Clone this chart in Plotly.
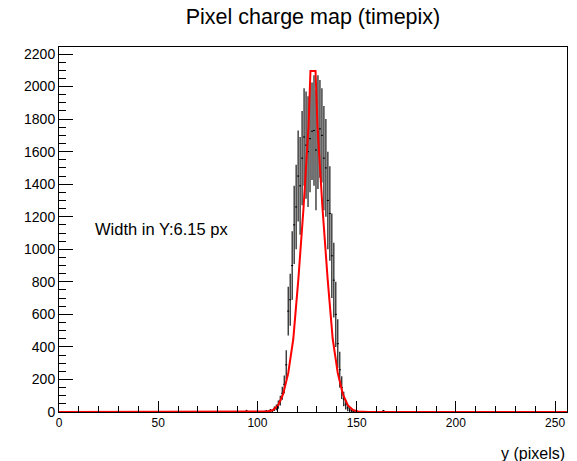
import plotly.graph_objects as go

# ---------------- data ----------------
n_bins = 256
# non-zero bins of the histogram: bin index -> (content, error)
peak_bins = [94, 101, 103, 104, 105, 106, 107, 108, 109, 110, 111, 112, 113, 114, 115, 116,
             117, 118, 119, 120, 121, 122, 123, 124, 125, 126, 127, 128, 129, 130, 131,
             132, 133, 134, 135, 136, 137, 138, 139, 140, 141, 142, 143, 144, 145, 146,
             147, 148, 163]
peak_vals = [8, 2, 3, 6, 4, 10, 8, 20, 28, 45, 70, 115, 170, 290, 620, 690,
             900, 1150, 1260, 1450, 1390, 1560, 1690, 1640, 1600, 1680, 1725, 1730, 1610, 1720, 1740,
             1700, 1560, 1500, 1300, 1220, 960, 810, 600, 420, 260, 150, 80, 45, 25, 12,
             6, 3, 8]
peak_errs = [5, 3, 4, 6, 5, 8, 8, 14, 18, 25, 30, 40, 55, 90, 150, 160,
             210, 240, 260, 280, 300, 290, 300, 330, 340, 330, 300, 340, 370, 350, 300,
             290, 320, 300, 300, 290, 260, 230, 200, 150, 110, 70, 45, 30, 20, 12,
             8, 5, 5]

# fit curve (drawn as polyline, sampled every 2.56 units), values near the peak
fit_peak_x = [100.16, 102.72, 105.28, 107.84, 110.40, 112.96, 115.52, 118.08, 120.64,
              123.20, 125.76, 126.72, 129.28, 130.24, 132.80, 135.36, 137.92, 140.48,
              143.04, 145.60, 148.16, 150.72, 153.28, 155.84]
fit_peak_y = [0, 0, 3, 12, 40, 110, 240, 450, 820, 1250, 1760, 2095, 2095, 1760, 1250,
              820, 450, 240, 110, 40, 12, 3, 0, 0]

title_text = "Pixel charge map (timepix)"
x_title = "y (pixels)"
note_text = "Width in Y:6.15 px"

# ---------------- build ----------------
centers = [i + 0.5 for i in range(n_bins)]
values = [0.0] * n_bins
errors = [0.0] * n_bins
for b, v, e in zip(peak_bins, peak_vals, peak_errs):
    values[b] = v
    errors[b] = e

fit_x = [0.0] + fit_peak_x + [256.0]
fit_y = [0.0] + fit_peak_y + [0.0]

FONT = "Liberation Sans, Arial, sans-serif"

fig = go.Figure()
fig.add_trace(go.Scatter(
    x=centers, y=values, mode="markers",
    marker=dict(size=0.1, color="black"),
    error_y=dict(type="data", array=errors, width=0, thickness=1.1, color="black"),
    error_x=dict(type="constant", value=0.5, width=0, thickness=1.1, color="black"),
    showlegend=False, hoverinfo="skip",
))
fig.add_trace(go.Scatter(
    x=fit_x, y=fit_y, mode="lines",
    line=dict(color="#ff0000", width=2),
    showlegend=False,
))

fig.add_annotation(x=17, y=1125, xref="x", yref="y", text=note_text,
                   showarrow=False, xanchor="left", yanchor="middle",
                   font=dict(family=FONT, size=16.5, color="black"))
fig.add_annotation(x=1, y=-0.084, xref="paper", yref="paper", text=x_title,
                   showarrow=False, xanchor="right", yanchor="top",
                   font=dict(family=FONT, size=16, color="black"))

fig.update_layout(
    width=577, height=461,
    margin=dict(l=59, r=10, t=47, b=49),
    paper_bgcolor="white", plot_bgcolor="white",
    title=dict(text=title_text, x=313 / 577, xanchor="center", xref="container",
               y=1 - 16 / 461, yanchor="middle", yref="container",
               font=dict(family=FONT, size=21.5, color="black")),
    font=dict(family=FONT, color="black"),
)
fig.update_xaxes(range=[0, 256], showgrid=False, zeroline=False,
                 showline=True, linecolor="black", linewidth=1, mirror=True,
                 ticks="inside", ticklen=11, tickcolor="black", tickwidth=1,
                 tick0=0, dtick=50, tickfont=dict(family=FONT, size=12, color="black"),
                 minor=dict(ticks="inside", ticklen=6, dtick=10, tickcolor="black", tickwidth=1))
fig.update_yaxes(range=[0, 2243], showgrid=False, zeroline=False,
                 showline=True, linecolor="black", linewidth=1, mirror=True,
                 ticks="inside", ticklen=14, tickcolor="black", tickwidth=1,
                 tick0=0, dtick=200, tickfont=dict(family=FONT, size=14, color="black"),
                 minor=dict(ticks="inside", ticklen=7, dtick=50, tickcolor="black", tickwidth=1))

fig.write_html("out.html")
